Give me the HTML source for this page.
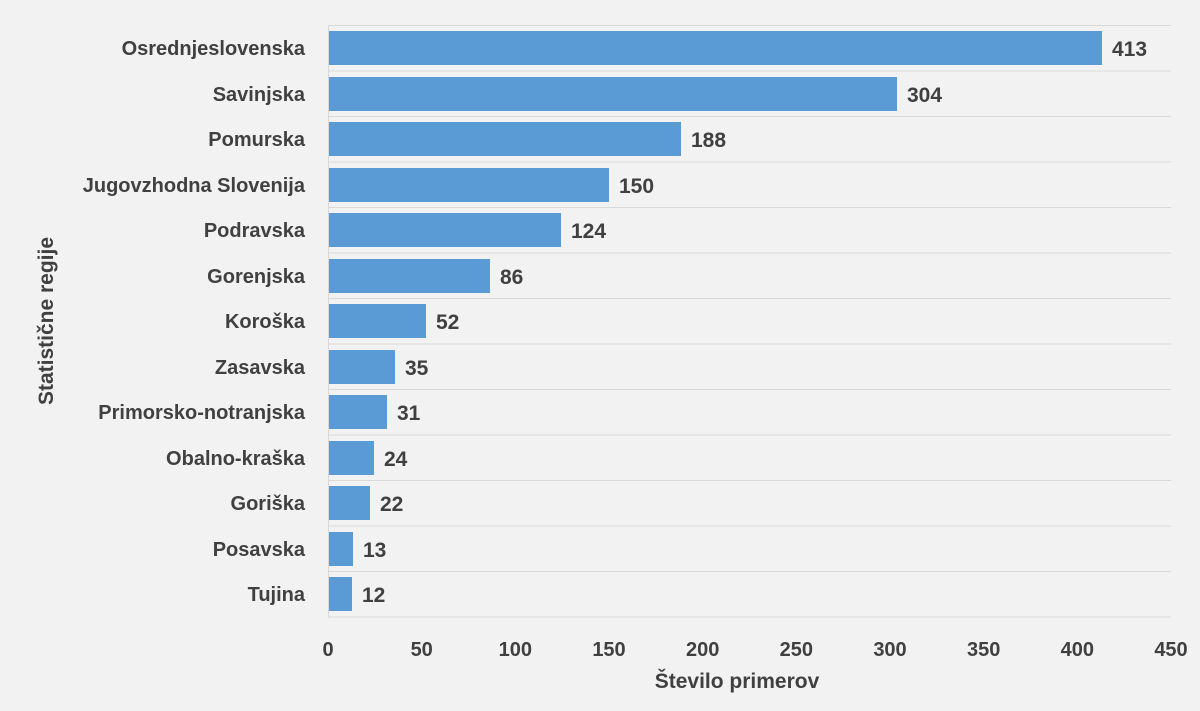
<!DOCTYPE html>
<html><head><meta charset="utf-8"><style>
body{margin:0;background:#f2f2f2;}
svg{display:block}
text{font-family:"Liberation Sans",sans-serif;font-weight:bold;fill:#404040;font-size:20px}
.v{font-size:21px}
.t{font-size:21px}
</style></head><body>
<svg width="1200" height="711" viewBox="0 0 1200 711">
<rect width="1200" height="711" fill="#f2f2f2"/>
<g stroke="#d9d9d9" stroke-width="1">
<line x1="328" y1="25.5" x2="1171" y2="25.5"/>
<line x1="328" y1="71" x2="1171" y2="71"/>
<line x1="328" y1="116.5" x2="1171" y2="116.5"/>
<line x1="328" y1="162" x2="1171" y2="162"/>
<line x1="328" y1="207.5" x2="1171" y2="207.5"/>
<line x1="328" y1="253" x2="1171" y2="253"/>
<line x1="328" y1="298.5" x2="1171" y2="298.5"/>
<line x1="328" y1="344" x2="1171" y2="344"/>
<line x1="328" y1="389.5" x2="1171" y2="389.5"/>
<line x1="328" y1="435" x2="1171" y2="435"/>
<line x1="328" y1="480.5" x2="1171" y2="480.5"/>
<line x1="328" y1="526" x2="1171" y2="526"/>
<line x1="328" y1="571.5" x2="1171" y2="571.5"/>
<line x1="328" y1="617" x2="1171" y2="617"/>
<line x1="328.5" y1="25" x2="328.5" y2="617"/>
</g>
<g fill="#5b9bd5">
<rect x="329" y="31" width="773" height="34"/>
<rect x="329" y="77" width="568" height="34"/>
<rect x="329" y="122" width="352" height="34"/>
<rect x="329" y="168" width="280" height="34"/>
<rect x="329" y="213" width="232" height="34"/>
<rect x="329" y="259" width="161" height="34"/>
<rect x="329" y="304" width="97" height="34"/>
<rect x="329" y="350" width="66" height="34"/>
<rect x="329" y="395" width="58" height="34"/>
<rect x="329" y="441" width="45" height="34"/>
<rect x="329" y="486" width="41" height="34"/>
<rect x="329" y="532" width="24" height="34"/>
<rect x="329" y="577" width="23" height="34"/>
</g>
<g text-anchor="end">
<text x="305" y="55">Osrednjeslovenska</text>
<text x="305" y="101">Savinjska</text>
<text x="305" y="146">Pomurska</text>
<text x="305" y="192">Jugovzhodna Slovenija</text>
<text x="305" y="237">Podravska</text>
<text x="305" y="283">Gorenjska</text>
<text x="305" y="328">Koroška</text>
<text x="305" y="374">Zasavska</text>
<text x="305" y="419">Primorsko-notranjska</text>
<text x="305" y="465">Obalno-kraška</text>
<text x="305" y="510">Goriška</text>
<text x="305" y="556">Posavska</text>
<text x="305" y="601">Tujina</text>
</g>
<g class="v">
<text class="v" x="1112" y="56">413</text>
<text class="v" x="907" y="102">304</text>
<text class="v" x="691" y="147">188</text>
<text class="v" x="619" y="193">150</text>
<text class="v" x="571" y="238">124</text>
<text class="v" x="500" y="284">86</text>
<text class="v" x="436" y="329">52</text>
<text class="v" x="405" y="375">35</text>
<text class="v" x="397" y="420">31</text>
<text class="v" x="384" y="466">24</text>
<text class="v" x="380" y="511">22</text>
<text class="v" x="363" y="557">13</text>
<text class="v" x="362" y="602">12</text>
</g>
<g text-anchor="middle">
<text x="328" y="656">0</text>
<text x="421.7" y="656">50</text>
<text x="515.3" y="656">100</text>
<text x="609" y="656">150</text>
<text x="702.7" y="656">200</text>
<text x="796.3" y="656">250</text>
<text x="890" y="656">300</text>
<text x="983.7" y="656">350</text>
<text x="1077.3" y="656">400</text>
<text x="1171" y="656">450</text>
<text class="t" x="737" y="688">Število primerov</text>
<text class="t" transform="translate(53,321) rotate(-90)">Statistične regije</text>
</g>
</svg>
</body></html>
